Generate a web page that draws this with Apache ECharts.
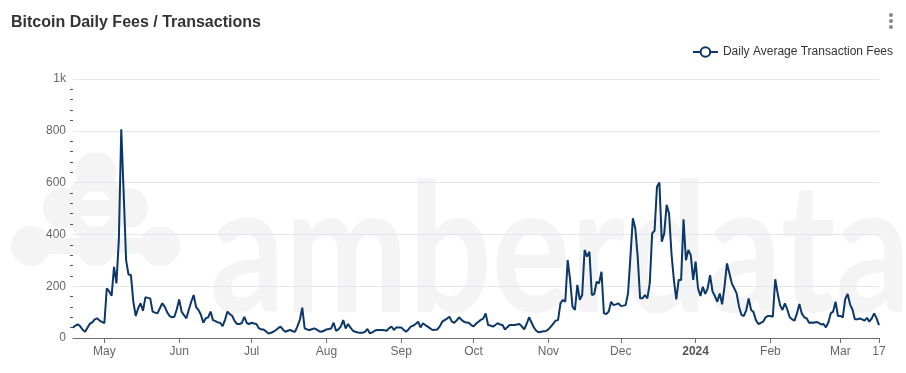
<!DOCTYPE html>
<html>
<head>
<meta charset="utf-8">
<script src="https://cdn.jsdelivr.net/npm/echarts@6/dist/echarts.min.js"></script>
<style>
html,body{margin:0;padding:0;background:#fff;}
#chart{width:906px;height:373px;}
</style>
</head>
<body>
<div id="chart"></div>
<script>
// ---- data ----
var titleText = 'Bitcoin Daily Fees / Transactions';
var seriesName = 'Daily Average Transaction Fees';
var startDate = '2023-04-18';
var dayCount = 335;
var monthNames = ['Jan','Feb','Mar','Apr','May','Jun','Jul','Aug','Sep','Oct','Nov','Dec'];
var yTicks = [0, 200, 400, 600, 800, 1000];
var feeValues = [
  40,48,53,45,32,24,40,55,60,72,
  76,67,62,57,192,180,163,275,211,380,
  806,560,301,245,243,140,85,115,134,105,
  157,155,153,102,98,95,115,134,121,100,
  85,80,82,110,149,102,88,76,110,140,
  166,120,108,90,59,76,80,102,69,65,
  60,59,46,70,102,92,85,65,54,54,
  58,82,58,54,59,56,54,38,33,33,
  25,17,20,24,30,38,44,32,24,28,
  31,26,24,45,70,117,37,33,31,34,
  37,32,26,24,28,33,35,37,59,28,
  33,45,69,37,54,40,28,24,21,20,
  20,24,35,18,22,28,31,31,31,30,
  28,38,44,31,41,41,41,32,24,33,
  44,48,54,63,41,57,50,44,37,31,
  32,33,45,63,69,75,82,63,59,68,
  80,70,63,60,59,50,45,55,63,70,
  75,95,50,48,44,50,57,52,50,33,
  42,50,50,50,52,54,45,33,55,80,
  60,40,28,22,24,26,27,33,44,55,
  67,69,134,147,140,301,224,121,108,205,
  147,166,340,314,333,166,170,217,211,256,
  95,93,102,140,127,130,134,124,125,127,
  172,314,462,424,314,153,153,166,153,211,
  404,414,584,600,372,404,514,481,327,224,
  149,224,224,458,300,340,320,224,295,192,
  162,198,170,192,243,180,162,140,172,130,
  200,288,250,211,192,172,121,89,85,108,
  153,108,100,69,54,58,63,80,85,85,
  82,227,172,127,108,134,110,80,72,67,
  95,131,95,80,76,59,60,59,62,59,
  52,54,41,60,95,102,140,85,85,80,
  150,170,130,110,72,72,75,72,67,78,
  63,76,95,76,50
];

// categories: consecutive days from startDate
var categories = [];
(function(){
  var p = startDate.split('-');
  var t0 = Date.UTC(+p[0], +p[1]-1, +p[2]);
  for (var i = 0; i < dayCount; i++) {
    var d = new Date(t0 + i*86400000);
    var m = d.getUTCMonth()+1, dd = d.getUTCDate();
    categories.push(d.getUTCFullYear()+'-'+(m<10?'0':'')+m+'-'+(dd<10?'0':'')+dd);
  }
})();
var lastIdx = categories.length - 1;
function isTickDay(index, value){
  return value.slice(8) === '01' || index === lastIdx;
}

var lineColor = '#0c3767';
var wm = '#f4f4f4';

var chart = echarts.init(document.getElementById('chart'), null, {renderer:'canvas'});
chart.setOption({
  animation: false,
  backgroundColor: '#ffffff',
  textStyle: { fontFamily: 'Liberation Sans, Arial, sans-serif' },
  title: {
    text: titleText,
    left: 11, top: 15, padding: 0,
    textStyle: { fontSize: 16, fontWeight: 'bold', color: '#333333', fontFamily: 'Liberation Sans, Arial, sans-serif' }
  },
  legend: {
    right: 13, top: 46, padding: 0,
    itemWidth: 25, itemHeight: 12, itemGap: 6,
    textStyle: { fontSize: 12, color: '#333333', fontFamily: 'Liberation Sans, Arial, sans-serif' },
    data: [seriesName]
  },
  graphic: [
    { type: 'text', x: 210, y: 254, z: -100, scaleX: 0.814,
      style: { text: 'amberdata', font: 'bold 181px Lato', fill: wm, verticalAlign: 'middle' } },
    { type: 'line', z: -100, shape: {x1:96,y1:172,x2:63,y2:208}, style:{stroke:wm, lineWidth:16} },
    { type: 'line', z: -100, shape: {x1:96,y1:172,x2:128,y2:208}, style:{stroke:wm, lineWidth:16} },
    { type: 'line', z: -100, shape: {x1:63,y1:208,x2:128,y2:208}, style:{stroke:wm, lineWidth:16} },
    { type: 'line', z: -100, shape: {x1:31,y1:246,x2:160,y2:246}, style:{stroke:wm, lineWidth:16} },
    { type: 'line', z: -100, shape: {x1:63,y1:208,x2:96,y2:246}, style:{stroke:wm, lineWidth:14} },
    { type: 'line', z: -100, shape: {x1:128,y1:208,x2:96,y2:246}, style:{stroke:wm, lineWidth:14} },
    { type: 'circle', z: -100, shape: {cx:96, cy:172, r:20}, style:{fill:wm} },
    { type: 'circle', z: -100, shape: {cx:63, cy:208, r:20}, style:{fill:wm} },
    { type: 'circle', z: -100, shape: {cx:128, cy:208, r:20}, style:{fill:wm} },
    { type: 'circle', z: -100, shape: {cx:31, cy:246, r:20}, style:{fill:wm} },
    { type: 'circle', z: -100, shape: {cx:96, cy:246, r:20}, style:{fill:wm} },
    { type: 'circle', z: -100, shape: {cx:160, cy:246, r:20}, style:{fill:wm} },
    { type: 'circle', shape: {cx:891, cy:15, r:2}, style:{fill:'#8a8a8a'} },
    { type: 'circle', shape: {cx:891, cy:21, r:2}, style:{fill:'#8a8a8a'} },
    { type: 'circle', shape: {cx:891, cy:27, r:2}, style:{fill:'#8a8a8a'} }
  ],
  grid: { left: 73, right: 27, top: 79, bottom: 35, containLabel: false, outerBoundsMode: 'none' },
  xAxis: {
    type: 'category',
    data: categories,
    boundaryGap: false,
    axisLine: { show: true, lineStyle: { color: '#6f6f6f', width: 1 } },
    axisTick: { show: true, interval: isTickDay, length: 5, lineStyle: { color: '#6f6f6f' } },
    axisLabel: {
      interval: isTickDay,
      margin: 8,
      fontSize: 12,
      color: '#666666',
      fontFamily: 'Liberation Sans, Arial, sans-serif',
      formatter: function(value, index){
        if (index === lastIdx) return String(+value.slice(8));
        var m = +value.slice(5,7);
        if (m === 1) return '{b|' + value.slice(0,4) + '}';
        return monthNames[m-1];
      },
      rich: { b: { fontWeight: 'bold', fontSize: 12, color: '#555555', fontFamily: 'Liberation Sans, Arial, sans-serif' } }
    },
    splitLine: { show: false }
  },
  yAxis: {
    type: 'value',
    min: yTicks[0], max: yTicks[yTicks.length-1], interval: 200,
    axisLine: { show: false },
    axisTick: { show: false },
    minorTick: { show: true, splitNumber: 5, length: 3, lineStyle: { color: '#555555', width: 1 } },
    minorSplitLine: { show: false },
    axisLabel: {
      margin: 7, fontSize: 12, color: '#666666',
      fontFamily: 'Liberation Sans, Arial, sans-serif',
      formatter: function(v){ return v >= 1000 ? (v/1000) + 'k' : String(v); }
    },
    splitLine: { show: true, lineStyle: { color: '#e1e6f0', width: 1 } }
  },
  series: [{
    name: seriesName,
    type: 'line',
    data: feeValues,
    symbol: 'emptyCircle',
    symbolSize: 10,
    showSymbol: false,
    color: lineColor,
    itemStyle: { color: lineColor, borderWidth: 2 },
    lineStyle: { color: lineColor, width: 2 },
    sampling: null,
    z: 3
  }]
});
</script>
</body>
</html>
